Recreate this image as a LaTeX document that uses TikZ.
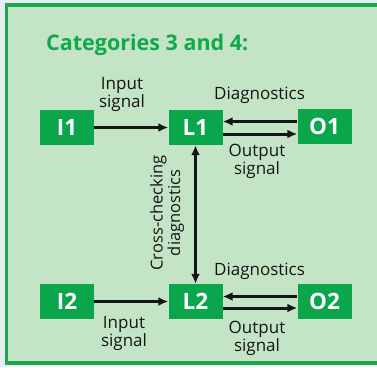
\documentclass[tikz,border=0pt]{standalone}
\usepackage{fontspec}
\setmainfont{Open Sans}
\usetikzlibrary{arrows.meta}
\definecolor{paleblue}{HTML}{E4EFF0}
\definecolor{panelgreen}{HTML}{C3E5C6}
\definecolor{framegreen}{HTML}{1FA551}
\definecolor{boxgreen}{HTML}{0BA64B}
\definecolor{titlegreen}{HTML}{12A84C}
\definecolor{ink}{HTML}{151515}
\tikzset{
  unitbox/.style={fill=boxgreen, text=white, minimum width=54pt, minimum height=35pt,
    inner sep=0pt, font=\fontsize{22.5}{22.5}\selectfont\bfseries},
  lbl/.style={text=ink, align=center, inner sep=0pt, font=\fontsize{17}{17.5}\selectfont},
  link/.style={draw=ink, line width=3pt, -{Latex[length=10pt,width=9pt]}},
  duallink/.style={draw=ink, line width=3pt, {Latex[length=10pt,width=9pt]}-{Latex[length=10pt,width=9pt]}}
}
\begin{document}
\begin{tikzpicture}[x=1pt,y=-1pt]
  \useasboundingbox (0,0) rectangle (377,367);
  \clip (0,0) rectangle (377,367);
  \fill[paleblue] (0,0) rectangle (377,367);
  \draw[framegreen, fill=panelgreen, line width=3.4pt] (6.5,5) rectangle (385,363);

  \node[anchor=base west, text=titlegreen, inner sep=0pt,
        font=\fontsize{21.5}{22}\selectfont\bfseries] (title) at (46,50) {Categories 3 and 4:};

  % channel 1
  \node[unitbox] (I1) at (67,127.5) {I1};
  \node[unitbox] (L1) at (195.5,127.5) {L1};
  \node[unitbox] (O1) at (324.5,126.5) {O1};
  % channel 2
  \node[unitbox] (I2) at (67,301.5) {I2};
  \node[unitbox] (L2) at (195.5,301.5) {L2};
  \node[unitbox] (O2) at (324.5,301.5) {O2};

  % signal paths (yshift is on the page: positive is upwards)
  \draw[link] (I1.east) -- (L1.west);
  \draw[link] ([yshift=6pt]O1.west |- L1.east) -- ([yshift=6pt]L1.east);
  \draw[link] ([yshift=-6.5pt]L1.east) -- ([yshift=-6.5pt]O1.west |- L1.east);
  \draw[link] (I2.east) -- (L2.west);
  \draw[link] ([yshift=5pt]O2.west) -- ([yshift=5pt]L2.east);
  \draw[link] ([yshift=-6.5pt]L2.east) -- ([yshift=-6.5pt]O2.west);
  \draw[duallink] (L1.south) -- (L2.north);

  % labels (base = baseline of the last line)
  \node[lbl, anchor=base] (in1) at (122,107) {Input\\signal};
  \node[lbl, anchor=base] (dg1) at (259.5,99) {Diagnostics};
  \node[lbl, anchor=base] (out1) at (257,174) {Output\\signal};
  \node[lbl, anchor=base] (in2) at (124,346) {Input\\signal};
  \node[lbl, anchor=base] (dg2) at (259.5,275) {Diagnostics};
  \node[lbl, anchor=base] (out2) at (257,351) {Output\\signal};
  \node[lbl, rotate=90, font=\fontsize{16.5}{17.5}\selectfont] (cross) at (167,213) {Cross-checking\\diagnostics};
\end{tikzpicture}
\end{document}
